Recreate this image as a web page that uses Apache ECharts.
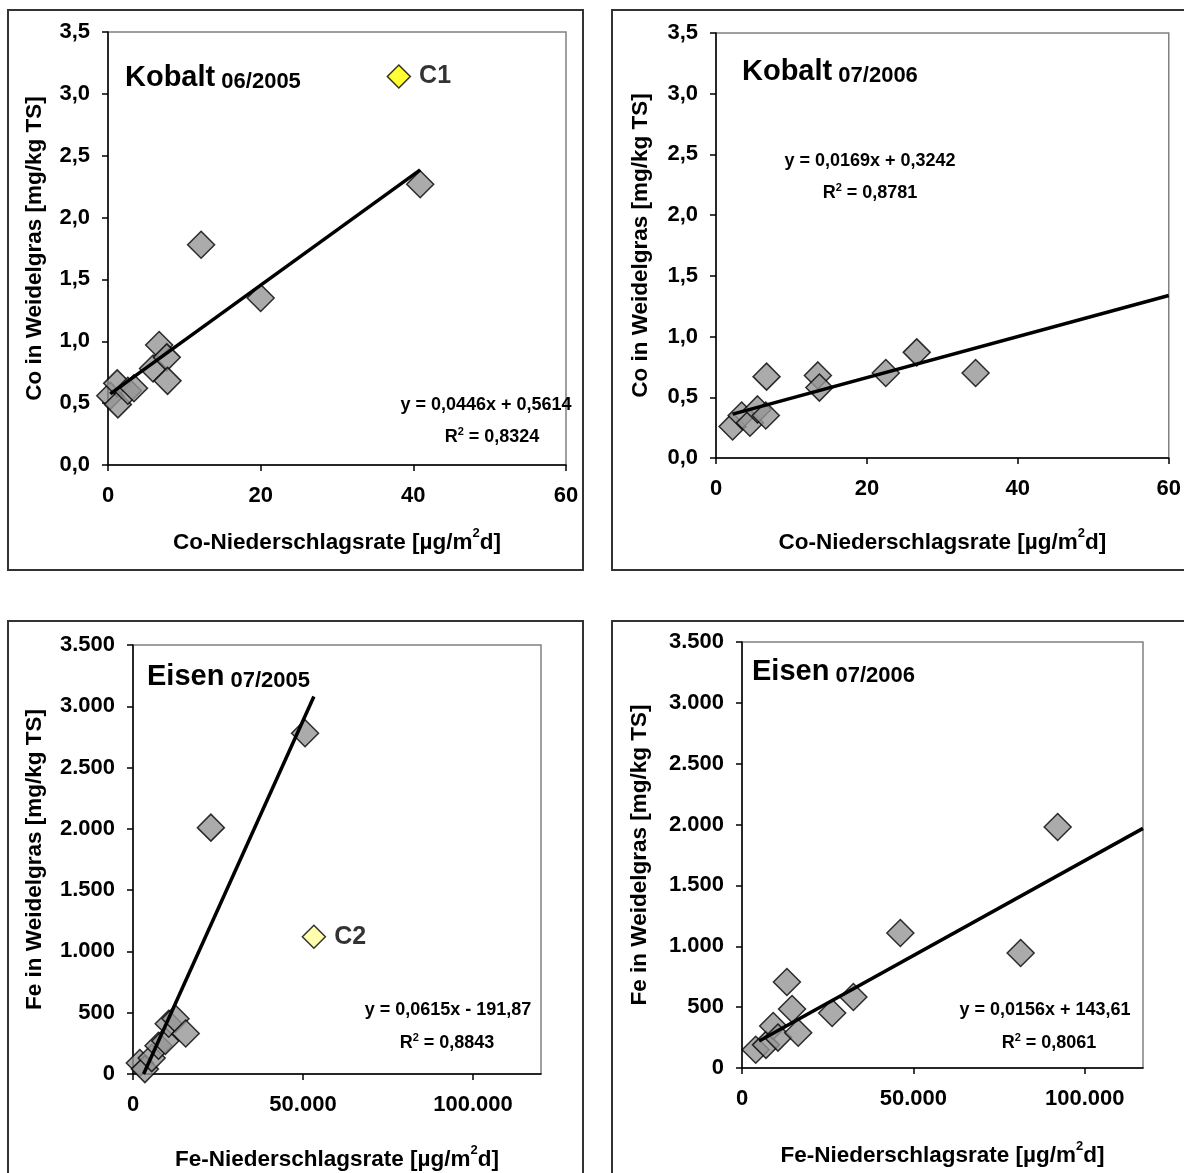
<!DOCTYPE html>
<html>
<head>
<meta charset="utf-8">
<script src="https://cdn.jsdelivr.net/npm/echarts@6/dist/echarts.min.js"></script>
<style>
html,body{margin:0;padding:0;background:#fff;}
#chart{width:1184px;height:1173px;}
</style>
</head>
<body>
<div id="chart"></div>
<script>
// ---------- DATA ----------
// Kobalt 06/2005
const coX2005 = [0.3, 1.2, 1.3, 2.6, 3.4, 5.9, 6.7, 7.7, 7.8, 12.2, 20.0, 40.9];
const coY2005 = [0.56, 0.66, 0.49, 0.60, 0.62, 0.78, 0.97, 0.87, 0.68, 1.78, 1.35, 2.27];
const coC1 = [38.1, 3.14];
const coTrend2005 = [[0.3, 0.575], [40.9, 2.385]];
// Kobalt 07/2006
const coX2006 = [2.2, 3.4, 4.5, 5.5, 6.6, 6.7, 13.5, 13.7, 22.5, 26.6, 34.4];
const coY2006 = [0.26, 0.35, 0.29, 0.40, 0.35, 0.67, 0.68, 0.58, 0.70, 0.87, 0.70];
const coTrend2006 = [[2.2, 0.361], [60, 1.338]];
// Eisen 07/2005
const feX2005 = [2000, 3500, 5500, 7500, 9500, 10500, 12500, 15500, 22900, 50600];
const feY2005 = [90, 40, 130, 230, 270, 410, 450, 330, 2010, 2780];
const feC2 = [53200, 1120];
const feTrend2005 = [[3120, 0], [53200, 3080]];
// Eisen 07/2006
const feX2006 = [4000, 7000, 9100, 10500, 13100, 14600, 16400, 26300, 32500, 46200, 81300, 92100];
const feY2006 = [150, 190, 345, 250, 707, 485, 290, 452, 583, 1109, 945, 1980];
const feTrend2006 = [[5000, 222], [117000, 1969]];

const titles = [['Kobalt', '06/2005'], ['Kobalt', '07/2006'], ['Eisen', '07/2005'], ['Eisen', '07/2006']];
const equations = [
  ['y = 0,0446x + 0,5614', '0,8324'],
  ['y = 0,0169x + 0,3242', '0,8781'],
  ['y = 0,0615x - 191,87', '0,8843'],
  ['y = 0,0156x + 143,61', '0,8061']
];
const yNames = ['Co in Weidelgras [mg/kg TS]', 'Co in Weidelgras [mg/kg TS]', 'Fe in Weidelgras [mg/kg TS]', 'Fe in Weidelgras [mg/kg TS]'];
const xNamePrefix = ['Co-Niederschlagsrate [µg/m', 'Co-Niederschlagsrate [µg/m', 'Fe-Niederschlagsrate [µg/m', 'Fe-Niederschlagsrate [µg/m'];
const xMax = [60, 60, 120000, 117000];

// ---------- STYLE ----------
const FF = '"Liberation Sans", Arial, sans-serif';
const GRAY = '#969696';

const grids = [
  {left:108, top:32, width:458, height:433},
  {left:716, top:33, width:455, height:425},
  {left:133, top:645, width:408, height:429},
  {left:742, top:642, width:401, height:426}
];
const yGap = [62, 64, 87, 91];
const xGapN = [62, 69, 70, 72];

function pair(xs, ys){ return xs.map((x,i)=>[x, ys[i]]); }
function coFmt(v){ return v.toFixed(1).replace('.', ','); }
function feFmt(v){ return String(Math.round(v)).replace(/\B(?=(\d{3})+(?!\d))/g, '.'); }

const labelBase = {color:'#000', fontSize:22, fontWeight:'bold', fontFamily:FF};
const axisCommon = {
  axisLine:{show:true, onZero:false, lineStyle:{color:'#000', width:1.5}},
  axisTick:{show:true, inside:false, length:6, lineStyle:{color:'#000', width:1.5}},
  splitLine:{show:false}
};

const xAxis = [], yAxis = [];
for (let i=0;i<4;i++){
  const isCo = i<2;
  xAxis.push(Object.assign({}, axisCommon, {
    type:'value', gridIndex:i, min:0, max:xMax[i], interval: isCo?20:50000,
    axisLabel: Object.assign({}, labelBase, {margin:20, showMaxLabel: isCo, formatter: isCo? (v)=>String(v) : feFmt}),
    name: '{n|' + xNamePrefix[i] + '}{s|2}{n|d]}',
    nameLocation:'middle', nameGap: xGapN[i],
    nameTextStyle:{ rich:{
      n:{fontSize:22.5, fontWeight:'bold', fontFamily:FF, color:'#000', lineHeight:32},
      s:{fontSize:13, fontWeight:'bold', fontFamily:FF, color:'#000', verticalAlign:'top', lineHeight:32, padding:[0,0,10,0]} } }
  }));
  yAxis.push(Object.assign({}, axisCommon, {
    type:'value', gridIndex:i, min:0, max: isCo?3.5:3500, interval: isCo?0.5:500,
    axisLabel: Object.assign({}, labelBase, {margin:18, formatter: isCo? coFmt : feFmt}),
    name: yNames[i], nameLocation:'middle', nameGap: yGap[i],
    nameTextStyle:{fontSize:22.5, fontWeight:'bold', fontFamily:FF, color:'#000'}
  }));
}

const diamond = {symbol:'diamond', symbolSize:27, itemStyle:{color:GRAY, borderColor:'#000', borderWidth:1.5}};
const trendStyle = {showSymbol:false, symbol:'none', lineStyle:{color:'#000', width:3.5}, z:5, silent:true};
const cLabel = {show:true, position:'right', distance:8, fontSize:25, fontWeight:'bold', fontFamily:FF, color:'#000'};

const series = [
  Object.assign({type:'scatter', xAxisIndex:0, yAxisIndex:0, data:pair(coX2005, coY2005), z:3}, diamond),
  Object.assign({type:'line', xAxisIndex:0, yAxisIndex:0, data:coTrend2005}, trendStyle),
  {type:'scatter', xAxisIndex:0, yAxisIndex:0, data:[coC1], symbol:'diamond', symbolSize:23,
   itemStyle:{color:'#ffff00', borderColor:'#000', borderWidth:1.5},
   label:Object.assign({formatter:'C1'}, cLabel)},
  Object.assign({type:'scatter', xAxisIndex:1, yAxisIndex:1, data:pair(coX2006, coY2006), z:3}, diamond),
  Object.assign({type:'line', xAxisIndex:1, yAxisIndex:1, data:coTrend2006}, trendStyle),
  Object.assign({type:'scatter', xAxisIndex:2, yAxisIndex:2, data:pair(feX2005, feY2005), z:3}, diamond),
  Object.assign({type:'line', xAxisIndex:2, yAxisIndex:2, data:feTrend2005}, trendStyle),
  {type:'scatter', xAxisIndex:2, yAxisIndex:2, data:[feC2], symbol:'diamond', symbolSize:23,
   itemStyle:{color:'#ffff99', borderColor:'#000', borderWidth:1.5},
   label:Object.assign({formatter:'C2'}, cLabel)},
  Object.assign({type:'scatter', xAxisIndex:3, yAxisIndex:3, data:pair(feX2006, feY2006), z:3}, diamond),
  Object.assign({type:'line', xAxisIndex:3, yAxisIndex:3, data:feTrend2006}, trendStyle)
];

// ---------- TEXT / FRAMES ----------
const titlePos = [[125, 78], [742, 72], [147, 677], [752, 672]];
const eqPos = [[486, 405, 492, 437], [870, 161, 870, 193], [448, 1010, 447, 1043], [1045, 1010, 1049, 1043]];
const frames = [[8,10,575,560],[612,10,620,560],[8,621,575,600],[612,621,620,600]];

const graphic = [];
frames.forEach(f=>graphic.push({type:'rect', shape:{x:f[0], y:f[1], width:f[2], height:f[3]}, style:{fill:'none', stroke:'#333', lineWidth:2}, z:0, silent:true}));
titles.forEach((t,i)=>graphic.push({type:'text', x:titlePos[i][0], y:titlePos[i][1], z:10, silent:true,
  style:{text:'{a|'+t[0]+'}{b| '+t[1]+'}', textVerticalAlign:'middle', textAlign:'left',
    rich:{a:{fontSize:29, fontWeight:'bold', fontFamily:FF, fill:'#000', verticalAlign:'bottom'},
          b:{fontSize:22, fontWeight:'bold', fontFamily:FF, fill:'#000', verticalAlign:'bottom'}}}}));
equations.forEach((e,i)=>{
  const p = eqPos[i];
  graphic.push({type:'text', x:p[0], y:p[1], z:10, silent:true,
    style:{text:e[0], font:'bold 18px '+FF, fill:'#000', textAlign:'center', textVerticalAlign:'middle'}});
  graphic.push({type:'text', x:p[2], y:p[3], z:10, silent:true,
    style:{text:'{a|R}{s|2}{a| = '+e[1]+'}', textAlign:'center', textVerticalAlign:'middle',
      rich:{a:{fontSize:18, fontWeight:'bold', fontFamily:FF, fill:'#000', lineHeight:22},
            s:{fontSize:11, fontWeight:'bold', fontFamily:FF, fill:'#000', verticalAlign:'top', lineHeight:22, padding:[0,0,8,0]}}}});
});

const chart = echarts.init(document.getElementById('chart'), null, {renderer:'canvas'});
chart.setOption({
  backgroundColor:'#fff',
  animation:false,
  grid: grids.map(g=>Object.assign({show:true, borderColor:'#808080', borderWidth:1.5, backgroundColor:'transparent', containLabel:false}, g)),
  xAxis, yAxis, series, graphic
});
</script>
</body>
</html>
